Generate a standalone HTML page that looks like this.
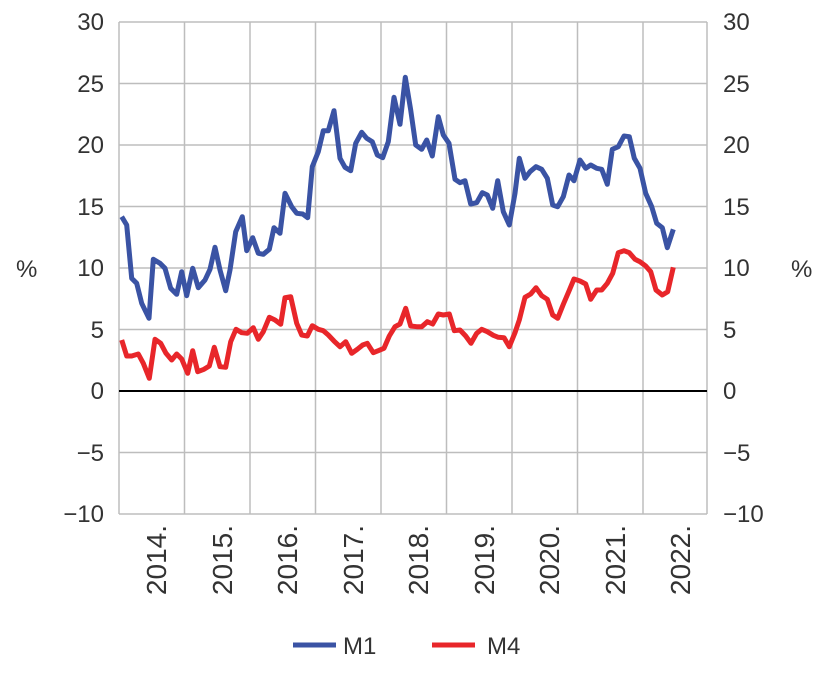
<!DOCTYPE html>
<html><head><style>body{margin:0;background:#fff}svg{display:block}</style></head><body>
<svg width="828" height="686" xmlns="http://www.w3.org/2000/svg" font-family="Liberation Sans, sans-serif">
<g stroke="#bdbdbd" stroke-width="1.5">
<line x1="119" y1="22" x2="707" y2="22"/><line x1="119" y1="83.5" x2="707" y2="83.5"/><line x1="119" y1="145" x2="707" y2="145"/><line x1="119" y1="206.5" x2="707" y2="206.5"/><line x1="119" y1="268" x2="707" y2="268"/><line x1="119" y1="329.5" x2="707" y2="329.5"/><line x1="119" y1="452.5" x2="707" y2="452.5"/><line x1="119" y1="514" x2="707" y2="514"/>
<line x1="119" y1="22" x2="119" y2="514"/><line x1="184.5" y1="22" x2="184.5" y2="514"/><line x1="250" y1="22" x2="250" y2="514"/><line x1="315.5" y1="22" x2="315.5" y2="514"/><line x1="381" y1="22" x2="381" y2="514"/><line x1="446.5" y1="22" x2="446.5" y2="514"/><line x1="512" y1="22" x2="512" y2="514"/><line x1="577.5" y1="22" x2="577.5" y2="514"/><line x1="643" y1="22" x2="643" y2="514"/><line x1="707" y1="22" x2="707" y2="514"/>
</g>
<line x1="119" y1="391" x2="707" y2="391" stroke="#000" stroke-width="2"/>
<g fill="#333" font-size="24" text-anchor="end">
<text x="104" y="30">30</text><text x="104" y="92">25</text><text x="104" y="153">20</text><text x="104" y="215">15</text><text x="104" y="276">10</text><text x="104" y="338">5</text><text x="104" y="399">0</text><text x="104" y="461">−5</text><text x="104" y="522">−10</text>
</g>
<g fill="#333" font-size="24" text-anchor="start">
<text x="723" y="30">30</text><text x="723" y="92">25</text><text x="723" y="153">20</text><text x="723" y="215">15</text><text x="723" y="276">10</text><text x="723" y="338">5</text><text x="723" y="399">0</text><text x="723" y="461">−5</text><text x="723" y="522">−10</text>
<text x="16" y="277">%</text><text x="791" y="277">%</text>
</g>
<g fill="#333" font-size="28" text-anchor="end">
<text transform="translate(166,525) rotate(-90)">2014.</text>
<text transform="translate(232,525) rotate(-90)">2015.</text>
<text transform="translate(297,525) rotate(-90)">2016.</text>
<text transform="translate(363,525) rotate(-90)">2017.</text>
<text transform="translate(428,525) rotate(-90)">2018.</text>
<text transform="translate(494,525) rotate(-90)">2019.</text>
<text transform="translate(559,525) rotate(-90)">2020.</text>
<text transform="translate(625,525) rotate(-90)">2021.</text>
<text transform="translate(690,525) rotate(-90)">2022.</text>
</g>
<polyline fill="none" stroke="#3a53a4" stroke-width="5" stroke-linejoin="round" points="121.7,216.7 126.7,225 131.7,278.3 136.7,283.3 141.7,303.3 149,318.3 153.3,259.3 160,263.3 165,268.3 170.7,288.3 176.7,294.3 181.7,271.7 186.7,295.7 192.7,268.3 198.3,287.7 205,280 210,269.3 215,247.3 220,270 225.7,290.7 230,270 235.7,231.7 242.3,216.7 246.7,250.7 252.7,237.7 258.3,253.3 263.3,254.3 269.3,249.3 274,227.7 280,233.3 285,193.3 291.7,206.7 296.7,213.3 302.7,214 307.7,217.7 312.3,166.7 318.3,151.7 323.3,130.7 328.3,130.7 334,110.7 340,158.3 345,167.3 350.7,170.7 355.7,143.3 361.7,132.3 366.7,138.3 372.3,141.7 377.3,155 382.7,157.7 388.3,141.7 394,97.3 400,124.3 405.3,77.3 410.7,110 415.7,145 421.7,149.3 426.7,140 432.3,156 438.3,116.7 443.3,135 449,143.3 455,179.3 460,182.7 465,180.7 470.7,204 476.7,202.7 482.3,192.7 487.3,195 492.7,208.3 497.7,180.7 503.3,211.7 509.3,225 515,193.3 519.3,158.3 525,178.3 530,171.7 536,166.7 541.7,169.3 547.3,178.3 552.7,205 557.7,206.7 563.3,196.7 569,175 574,180.7 580,160 585.7,168.3 590.7,165 596.7,168.3 601.7,169.3 607.3,184.3 612.3,149.3 618.3,146.7 624,136 629.3,136.7 634.3,158.3 640,168.3 645.7,193.3 651.7,206.7 656.7,223.3 662.3,227.7 667.3,247.7 673.3,229.3"/>
<polyline fill="none" stroke="#e8262a" stroke-width="5" stroke-linejoin="round" points="121.7,340 126.7,356 131.7,356 138.3,354 143.3,363.3 149.3,378.3 155,339.3 160.7,343.3 166,353.3 171.7,360 176.7,354 181.7,359 187.7,373.3 192.7,350.7 197.7,371.7 204,369.3 209.3,366 214.3,347.3 220,366.7 225.7,367.3 230.7,341.7 236,329.3 241.7,332.7 247.3,333.3 253.3,327.7 258.3,339.3 263.3,331.7 269.3,317.3 275,320 280.7,324.3 285,297.7 290.7,296.7 296.7,323.3 301.7,335 307.3,336 312.3,325.7 318.3,329.3 323.3,330.7 328.3,335 334,341 340,346.7 345.7,341.7 351.7,353.3 357.3,349.3 362.7,345 367.3,343.3 373.3,352.7 378.3,350.7 384,348.3 389.3,336 395,326.7 400,324 405.7,308.3 410.7,326 416.7,326.7 421.7,326.7 427.3,321.7 432.7,324 438.3,314 443.3,315 449.3,314 454.3,330.7 460,330 465.7,336 471,343.3 476.7,333.3 481.7,329.3 487.3,331.7 493.3,335.3 498.3,337.3 504,337.7 509.3,346.7 515,332.7 519.3,320 525,297.3 530.7,294 536,287.7 541.7,295.7 547.3,299.3 552.7,315 557.7,318.3 563.3,304.3 569,291 574,279 580,281 585.7,284 590.7,299.3 596.7,290 601.7,290 607.3,283.3 612.7,273.3 618.3,252.7 624,250.7 629.3,252.7 635,259.3 640,261.7 645.7,266 650.7,271.7 656,290 662.3,295 667.7,291.7 673.3,267.3"/>
<line x1="293" y1="645" x2="336" y2="645" stroke="#3a53a4" stroke-width="5"/>
<text x="343" y="654" font-size="24" fill="#333">M1</text>
<line x1="432" y1="645" x2="475" y2="645" stroke="#e8262a" stroke-width="5"/>
<text x="487" y="654" font-size="24" fill="#333">M4</text>
</svg>
</body></html>
